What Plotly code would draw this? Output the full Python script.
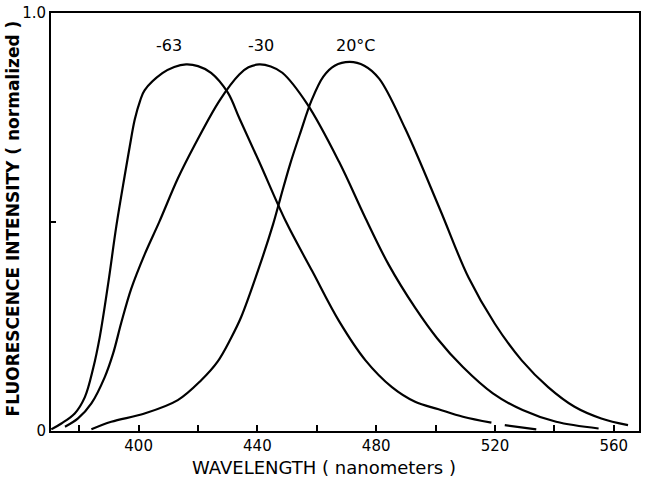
import plotly.graph_objects as go

# wavelength (nm) and normalized intensity for each temperature
wl_m63 = [370.6, 374.0, 378.5, 381.9, 384.7, 386.9, 389.7, 392.5, 395.3, 397.0, 398.7, 400.5, 402.0,
          408.0, 412.0, 416.0, 420.0, 424.4, 430.0, 434.0, 440.6, 449.6, 458.5, 467.4, 476.4, 485.3,
          493.1, 501.0, 509.2, 518.8, None, 523.3, 533.9]
int_m63 = [0.004, 0.018, 0.042, 0.081, 0.150, 0.224, 0.350, 0.490, 0.610, 0.680, 0.745, 0.790, 0.815,
           0.856, 0.871, 0.877, 0.873, 0.857, 0.810, 0.747, 0.644, 0.501, 0.382, 0.264, 0.169, 0.105,
           0.070, 0.052, 0.034, 0.020, None, 0.014, 0.004]

wl_m30 = [375.2, 379.6, 384.1, 388.6, 391.4, 394.2, 397.5, 402.0, 407.0, 413.2, 418.8, 427.2, 433.9,
          437.0, 440.6, 444.5, 448.4, 456.8, 467.5, 476.4, 484.2, 493.1, 500.5, 509.2, 519.3, 529.3,
          540.6, 554.9]
int_m30 = [0.010, 0.030, 0.066, 0.129, 0.185, 0.260, 0.340, 0.422, 0.501, 0.604, 0.683, 0.790, 0.853,
           0.870, 0.877, 0.872, 0.857, 0.782, 0.644, 0.509, 0.398, 0.295, 0.222, 0.153, 0.090, 0.050,
           0.022, 0.006]

wl_p20 = [384.1, 390.8, 402.0, 413.2, 421.0, 426.6, 431.1, 434.5, 440.6, 445.3, 447.7, 451.0, 454.4,
          458.3, 462.2, 466.0, 471.1, 476.0, 481.0, 489.8, 501.5, 511.1, 520.0, 529.0, 537.9, 546.8,
          555.8, 564.8]
int_p20 = [0.004, 0.022, 0.042, 0.074, 0.121, 0.166, 0.222, 0.272, 0.392, 0.495, 0.556, 0.638, 0.712,
           0.792, 0.848, 0.874, 0.883, 0.874, 0.843, 0.723, 0.530, 0.367, 0.256, 0.169, 0.105, 0.058,
           0.030, 0.014]

curve_labels = ["-63", "-30", "20°C"]
label_x = [410.4, 441.3, 473.2]
label_y = [0.922, 0.922, 0.922]

x_tickvals = [380, 400, 420, 440, 460, 480, 500, 520, 540, 560]
x_ticktext = ["", "400", "", "440", "", "480", "", "520", "", "560"]
y_tickvals = [0, 0.5, 1.0]
y_ticktext = ["0", "", "1.0"]

fig = go.Figure()
for xs, ys in [(wl_m63, int_m63), (wl_m30, int_m30), (wl_p20, int_p20)]:
    fig.add_trace(go.Scatter(x=xs, y=ys, mode="lines",
                             line=dict(color="black", width=2.2, shape="spline", smoothing=1.0),
                             connectgaps=False, showlegend=False, hoverinfo="skip"))

for t, x, y in zip(curve_labels, label_x, label_y):
    fig.add_annotation(x=x, y=y, text=t, showarrow=False, xref="x", yref="y",
                       font=dict(family="DejaVu Sans", size=16, color="black"))

fig.add_annotation(x=0.464, y=-0.088, xref="paper", yref="paper", text="WAVELENGTH ( nanometers )",
                   showarrow=False, yanchor="middle", xanchor="center",
                   font=dict(family="DejaVu Sans", size=18, color="black"))
fig.add_annotation(x=-0.065, y=0.508, xref="paper", yref="paper",
                   text="<b>FLUORESCENCE INTENSITY ( normalized )</b>", textangle=-90,
                   showarrow=False, yanchor="middle", xanchor="center",
                   font=dict(family="DejaVu Sans", size=17, color="black"))

fig.update_layout(
    width=645, height=479,
    margin=dict(l=51, r=4, t=10, b=48),
    paper_bgcolor="white", plot_bgcolor="white",
    xaxis=dict(range=[370.5, 568.5], tickmode="array", tickvals=x_tickvals, ticktext=x_ticktext,
               ticks="inside", ticklen=6, tickwidth=1.5, tickcolor="black",
               showline=True, linecolor="black", linewidth=2, mirror=True,
               showgrid=False, zeroline=False,
               tickfont=dict(family="DejaVu Sans", size=15, color="black")),
    yaxis=dict(range=[0, 1.0], tickmode="array", tickvals=y_tickvals, ticktext=y_ticktext,
               ticks="inside", ticklen=5, tickwidth=1.5, tickcolor="black",
               showline=True, linecolor="black", linewidth=2, mirror=True,
               showgrid=False, zeroline=False,
               tickfont=dict(family="DejaVu Sans", size=15, color="black")),
)

# remove the default page margin so the figure sits at the window's top-left corner
fig.write_html("out.html", config={"displayModeBar": False},
               post_script="document.body.style.margin='0px';document.body.style.overflow='hidden';")
